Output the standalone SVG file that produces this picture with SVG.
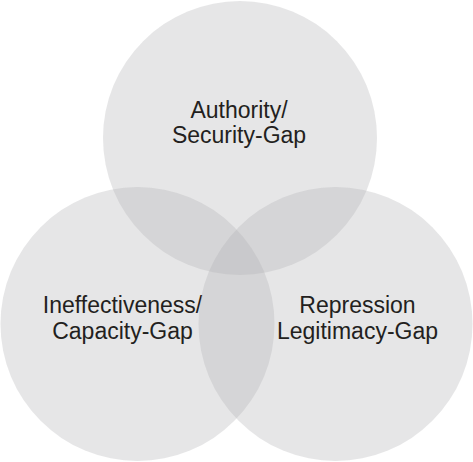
<svg xmlns="http://www.w3.org/2000/svg" width="473" height="462" viewBox="0 0 473 462">
<style>
.c{fill:#b0b2b4;fill-opacity:0.32}
.t{font-family:"Liberation Sans",Arial,sans-serif;font-size:23px;fill:#231f20;text-anchor:middle}
</style>
<rect width="473" height="462" fill="#ffffff"/>
<g id="authority">
<circle class="c" cx="240" cy="138" r="137"/>
<text class="t" x="239" y="118">Authority/</text>
<text class="t" x="239" y="143">Security-Gap</text>
</g>
<g id="ineffectiveness">
<circle class="c" cx="137.5" cy="324" r="137"/>
<text class="t" x="122.5" y="313">Ineffectiveness/</text>
<text class="t" x="122.5" y="338.5">Capacity-Gap</text>
</g>
<g id="repression">
<circle class="c" cx="335.5" cy="324" r="137"/>
<text class="t" x="357.5" y="313">Repression</text>
<text class="t" x="357.5" y="338.5">Legitimacy-Gap</text>
</g>
<g id="connectors"></g>
</svg>
